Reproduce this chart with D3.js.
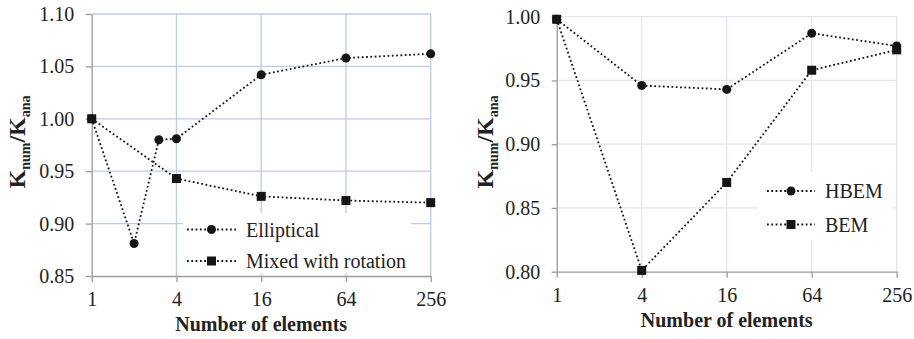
<!DOCTYPE html>
<html>
<head>
  <script src="https://cdn.jsdelivr.net/npm/d3@7"></script>
  <style>
    html, body { margin: 0; background: #fff; }
    svg text { font-family: "Liberation Serif", serif; }
  </style>
</head>
<body>
<svg id="chart" width="914" height="339"></svg>
<script>
// ---- data ----
var xTickValues = [1, 4, 16, 64, 256];

// left panel
var leftYTicks = [0.85, 0.90, 0.95, 1.00, 1.05, 1.10];
var ellipticalN = [1, 2, 3, 4, 16, 64, 256];
var ellipticalK = [1.000, 0.881, 0.980, 0.981, 1.042, 1.058, 1.062];
var mixedN = [1, 4, 16, 64, 256];
var mixedK = [1.000, 0.943, 0.926, 0.922, 0.920];

// right panel
var rightYTicks = [0.80, 0.85, 0.90, 0.95, 1.00];
var hbemN = [1, 4, 16, 64, 256];
var hbemK = [0.998, 0.946, 0.943, 0.987, 0.977];
var bemN = [1, 4, 16, 64, 256];
var bemK = [0.998, 0.801, 0.870, 0.958, 0.974];

var svg = d3.select("#chart");

function zip(xs, ys) { return xs.map(function(x, i) { return [x, ys[i]]; }); }

function drawMarkers(g, shape, pts) {
  if (shape === "circle") {
    g.selectAll(null).data(pts).enter().append("circle")
      .attr("cx", function(d) { return d[0]; }).attr("cy", function(d) { return d[1]; })
      .attr("r", 4.5).attr("fill", "#151515");
  } else {
    g.selectAll(null).data(pts).enter().append("rect")
      .attr("x", function(d) { return d[0] - 4.5; }).attr("y", function(d) { return d[1] - 4.5; })
      .attr("width", 9).attr("height", 9).attr("fill", "#151515");
  }
}

function drawPanel(cfg) {
  var g = svg.append("g");

  var x = d3.scaleLog().base(2).domain([1, 256]).range([cfg.left, cfg.right]);
  var y = d3.scaleLinear().domain(cfg.yDomain).range([cfg.bottom, cfg.top]);

  // grid lines
  g.selectAll(null).data(cfg.yTicks.slice(1)).enter().append("line")
    .attr("x1", cfg.left).attr("x2", cfg.right)
    .attr("y1", function(d) { return y(d); }).attr("y2", function(d) { return y(d); })
    .attr("stroke", cfg.grid).attr("stroke-width", 1.3);
  g.selectAll(null).data(xTickValues.slice(1)).enter().append("line")
    .attr("x1", function(d) { return x(d); }).attr("x2", function(d) { return x(d); })
    .attr("y1", cfg.top).attr("y2", cfg.bottom)
    .attr("stroke", cfg.grid).attr("stroke-width", 1.3);

  // legend background hides the grid behind it
  g.append("rect")
    .attr("x", cfg.legBox[0]).attr("y", cfg.legBox[1])
    .attr("width", cfg.legBox[2]).attr("height", cfg.legBox[3])
    .attr("fill", "#fff");

  // axes
  var ya = g.append("g").attr("transform", "translate(" + cfg.left + ",0)")
    .call(d3.axisLeft(y).tickValues(cfg.yTicks).tickFormat(d3.format(".2f"))
      .tickSize(cfg.tick).tickSizeOuter(0).tickPadding(11.5));
  var xa = g.append("g").attr("transform", "translate(0," + cfg.bottom + ")")
    .call(d3.axisBottom(x).tickValues(xTickValues).tickFormat(d3.format("d"))
      .tickSize(6).tickSizeOuter(0).tickPadding(10));
  [ya, xa].forEach(function(a) {
    a.attr("font-family", null).attr("font-size", 20);
    a.select(".domain").attr("stroke", "#9a9a9a").attr("stroke-width", 1.3);
    a.selectAll(".tick line").attr("stroke", "#9a9a9a").attr("stroke-width", 1.3);
    a.selectAll(".tick text").attr("fill", "#222");
  });

  // series
  var line = d3.line().x(function(d) { return x(d[0]); }).y(function(d) { return y(d[1]); });
  cfg.series.forEach(function(s) {
    var pts = zip(s.n, s.k);
    g.append("path").datum(pts).attr("d", line)
      .attr("fill", "none").attr("stroke", "#151515")
      .attr("stroke-width", 1.8).attr("stroke-dasharray", "1.8,2.5");
    drawMarkers(g, s.shape, pts.map(function(p) { return [x(p[0]), y(p[1])]; }));
  });

  // legend
  cfg.series.forEach(function(s, i) {
    var ly = cfg.legY[i];
    g.append("line")
      .attr("x1", cfg.legX[0]).attr("x2", cfg.legX[1]).attr("y1", ly).attr("y2", ly)
      .attr("stroke", "#151515").attr("stroke-width", 1.8).attr("stroke-dasharray", "1.8,2.5");
    drawMarkers(g, s.shape, [[(cfg.legX[0] + cfg.legX[1]) / 2, ly]]);
    g.append("text")
      .attr("x", cfg.legX[1] + 10).attr("y", ly + 7)
      .attr("font-size", 20).attr("fill", "#222")
      .text(s.name);
  });

  // axis titles
  g.append("text")
    .attr("x", (cfg.left + cfg.right) / 2).attr("y", cfg.xTitleY)
    .attr("text-anchor", "middle").attr("font-size", 20).attr("font-weight", "bold")
    .attr("fill", "#222")
    .text("Number of elements");

  var yt = g.append("text")
    .attr("transform", "translate(" + cfg.yTitleX + ",142) rotate(-90)")
    .attr("text-anchor", "middle").attr("font-weight", "bold").attr("fill", "#222")
    .attr("font-size", 24);
  yt.append("tspan").text("K");
  yt.append("tspan").attr("font-size", 14).attr("dy", 5).text("num");
  yt.append("tspan").attr("dy", -5).text("/K");
  yt.append("tspan").attr("font-size", 14).attr("dy", 5).text("ana");
}

drawPanel({
  left: 91.7, right: 430.7, top: 14, bottom: 276,
  yDomain: [0.85, 1.10], yTicks: leftYTicks, tick: 6,
  grid: "#bccbe6",
  legBox: [183, 213, 228, 60],
  legX: [187, 236], legY: [229.5, 261],
  xTitleY: 331, yTitleX: 25,
  series: [
    { name: "Elliptical", n: ellipticalN, k: ellipticalK, shape: "circle" },
    { name: "Mixed with rotation", n: mixedN, k: mixedK, shape: "square" }
  ]
});

drawPanel({
  left: 556.7, right: 896.7, top: 16.7, bottom: 271.7,
  yDomain: [0.80, 1.00], yTicks: rightYTicks, tick: 5,
  grid: "#e3e6f1",
  legBox: [758, 172, 134, 68],
  legX: [767, 815], legY: [191, 224.5],
  xTitleY: 327, yTitleX: 493,
  series: [
    { name: "HBEM", n: hbemN, k: hbemK, shape: "circle" },
    { name: "BEM", n: bemN, k: bemK, shape: "square" }
  ]
});
</script>
</body>
</html>
